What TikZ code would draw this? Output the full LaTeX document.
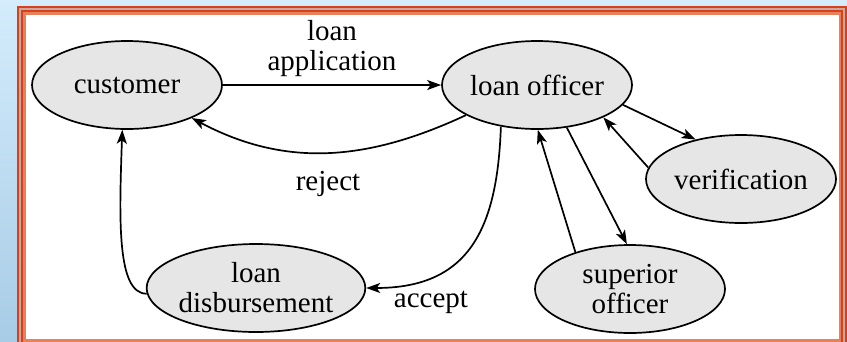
\documentclass[tikz,border=0pt]{standalone}
\usepackage{fontspec}
\setmainfont{Liberation Serif}
\usetikzlibrary{shapes.geometric,arrows.meta}
\definecolor{bluetop}{HTML}{D4ECFC}
\definecolor{bluebot}{HTML}{A8CCE6}
\definecolor{framered}{HTML}{D8401A}
\definecolor{framegray}{HTML}{C8A8A0}
\definecolor{framelight}{HTML}{E8805A}
\definecolor{statefill}{HTML}{E6E6E6}

\begin{document}
\begin{tikzpicture}[x=1pt,y=-1pt,
	state/.style={ellipse,draw,line width=1.7pt,fill=statefill,minimum width=190pt,minimum height=88pt,inner sep=0pt,align=center},
	flow/.style={line width=1.7pt,-{Stealth[length=14pt,width=10pt,inset=3.5pt]}},
	every node/.style={font=\fontsize{29}{30}\selectfont}]
	\clip (0,0) rectangle (847,341);
	\shade[top color=bluetop,bottom color=bluebot] (0,0) rectangle (847,341);
	\fill[framered] (17,6) rectangle (847,348);
	\fill[framegray] (19,8) rectangle (845,346);
	\fill[framered] (21,10) rectangle (843,344);
	\fill[framelight] (23,12) rectangle (841,342);
	\fill[white] (25.5,14.5) rectangle (838.5,339);
	\node[state] (cust) at (127,85) {customer};
	\node[state] (lo) at (537,85) {loan officer};
	\node[state] (ver) at (741,179) {verification};
	\node[state] (sup) at (630,289) {superior\\officer};
	\node[state] (disb) at (256,288) {loan\\disbursement};
	\draw[flow] (cust) -- node[above,align=center,inner sep=7pt] {loan\\application} (lo);
	\draw[flow] (lo.203) to[out=205,in=-28] node[below,inner sep=18pt] {reject} (cust.-27);
	\draw[flow] (lo.229) to[out=-92,in=0,looseness=1.25] node[pos=0.86,below right,inner sep=6pt,xshift=-18pt] {accept} (disb.east);
	\draw[flow] (disb.183) to[out=180,in=-92,out distance=30pt,in distance=90pt] (cust.-96);
	\draw[flow] (lo.-13) -- (ver.139);
	\draw[flow] (ver.173) -- (lo.-26);
	\draw[flow] (lo.-55) -- (sup.94);
	\draw[flow] (sup.146) -- (lo.-89);
\end{tikzpicture}
\end{document}
